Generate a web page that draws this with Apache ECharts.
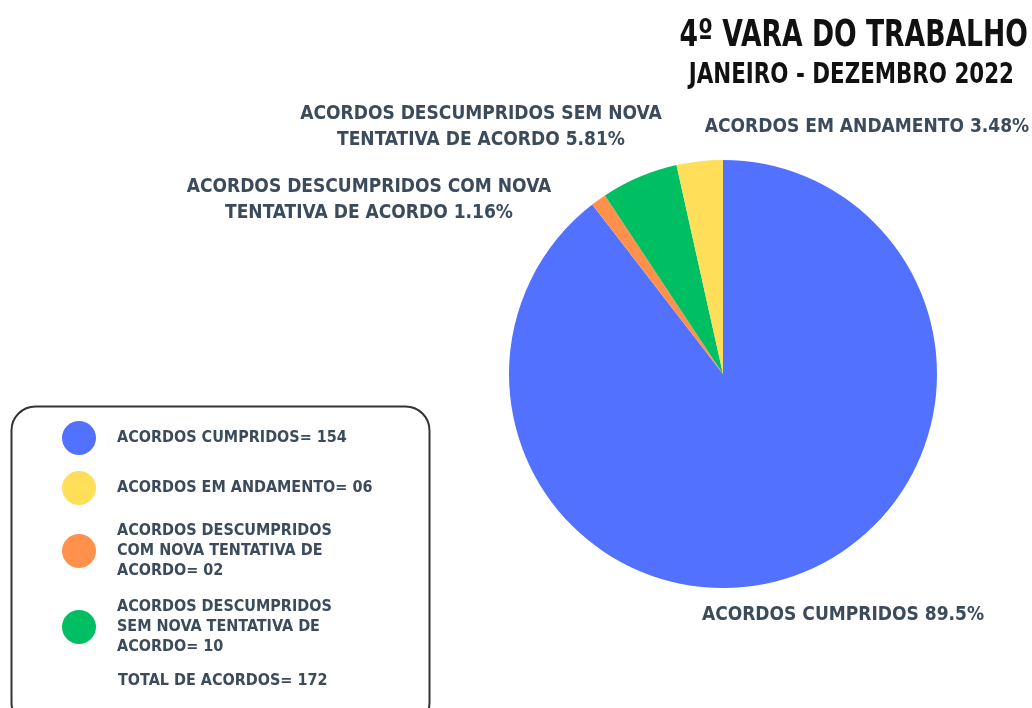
<!DOCTYPE html>
<html>
<head>
<meta charset="utf-8">
<title>4º Vara do Trabalho</title>
<script src="https://cdn.jsdelivr.net/npm/echarts@6/dist/echarts.min.js"></script>
<style>
  html, body { margin: 0; padding: 0; background: #fff; }
  #chart { width: 1032px; height: 708px; }
</style>
</head>
<body>
<div id="chart"></div>
<script>
// dados (ordem horaria a partir do topo)
const categorias = ['ACORDOS CUMPRIDOS', 'ACORDOS DESCUMPRIDOS COM NOVA TENTATIVA DE ACORDO', 'ACORDOS DESCUMPRIDOS SEM NOVA TENTATIVA DE ACORDO', 'ACORDOS EM ANDAMENTO']
const valores = [154, 2, 10, 6]
const percentuais = ['89.5%', '1.16%', '5.81%', '3.48%']
const rotulosPizza = [
  'ACORDOS CUMPRIDOS',
  'ACORDOS DESCUMPRIDOS COM NOVA\nTENTATIVA DE ACORDO',
  'ACORDOS DESCUMPRIDOS SEM NOVA\nTENTATIVA DE ACORDO',
  'ACORDOS EM ANDAMENTO'
]
const cores = ['#5271ff', '#ff914d', '#00bf63', '#ffde59']

// legenda (ordem da caixa)
const legendaOrdem = [0, 3, 1, 2]
const legendaTextos = ['ACORDOS CUMPRIDOS= 154', 'ACORDOS EM ANDAMENTO= 06', 'ACORDOS DESCUMPRIDOS\nCOM NOVA TENTATIVA DE\nACORDO= 02', 'ACORDOS DESCUMPRIDOS\nSEM NOVA TENTATIVA DE\nACORDO= 10']
const totalTexto = 'TOTAL DE ACORDOS= 172'

const titulo = '4º VARA DO TRABALHO'
const subtitulo = 'JANEIRO - DEZEMBRO 2022'

const fonte = "'DejaVu Sans Condensed', sans-serif"
const corTexto = '#3b4b5c'

// posicao dos rotulos da pizza (centro do texto)
const posRotulos = [
  [843, 615],
  [369, 200],
  [481, 127],
  [867, 127]
]

const chart = echarts.init(document.getElementById('chart'))

const dados = valores.map((v, i) => ({
  name: categorias[i],
  value: v,
  itemStyle: { color: cores[i] },
  label: { formatter: rotulosPizza[i] + ' ' + percentuais[i] }
}))

const option = {
  animation: false,
  legend: {
    orient: 'vertical',
    left: 57,
    top: 416,
    icon: 'circle',
    itemWidth: 34,
    itemHeight: 34,
    itemGap: 16,
    selectedMode: false,
    data: legendaOrdem.map(i => categorias[i]),
    formatter: name => legendaTextos[legendaOrdem.findIndex(i => categorias[i] === name)],
    textStyle: {
      fontFamily: fonte,
      fontWeight: 'bold',
      fontSize: 16,
      lineHeight: 20,
      color: corTexto,
      padding: [0, 0, 0, 16]
    }
  },
  graphic: [
    {
      type: 'text',
      x: 1028,
      y: 18,
      scaleX: 0.8,
      style: { text: titulo, fontFamily: fonte, fontWeight: 'bold', fontSize: 37, fill: '#111', textAlign: 'right' }
    },
    {
      type: 'text',
      x: 1014,
      y: 61,
      scaleX: 0.82,
      style: { text: subtitulo, fontFamily: fonte, fontWeight: 'bold', fontSize: 29, fill: '#111', textAlign: 'right' }
    },
    {
      type: 'rect',
      left: 9,
      top: 404,
      shape: { width: 418, height: 320, r: 24 },
      style: { fill: 'none', stroke: '#333', lineWidth: 2 }
    },
    {
      type: 'text',
      left: 118,
      top: 673,
      style: { text: totalTexto, fontFamily: fonte, fontWeight: 'bold', fontSize: 16, fill: corTexto }
    }
  ],
  series: [{
    type: 'pie',
    center: [723, 374],
    radius: 214,
    startAngle: 90,
    clockwise: true,
    data: dados,
    label: {
      show: true,
      position: 'outside',
      alignTo: 'none',
      overflow: 'none',
      fontFamily: fonte,
      fontWeight: 'bold',
      fontSize: 19,
      lineHeight: 26,
      color: corTexto,
      align: 'center'
    },
    labelLine: { show: false },
    labelLayout: params => ({
      x: posRotulos[params.dataIndex][0],
      y: posRotulos[params.dataIndex][1],
      align: 'center',
      verticalAlign: 'middle'
    }),
    emphasis: { disabled: true }
  }]
}

chart.setOption(option)
window.addEventListener('resize', () => chart.resize())
</script>
</body>
</html>
